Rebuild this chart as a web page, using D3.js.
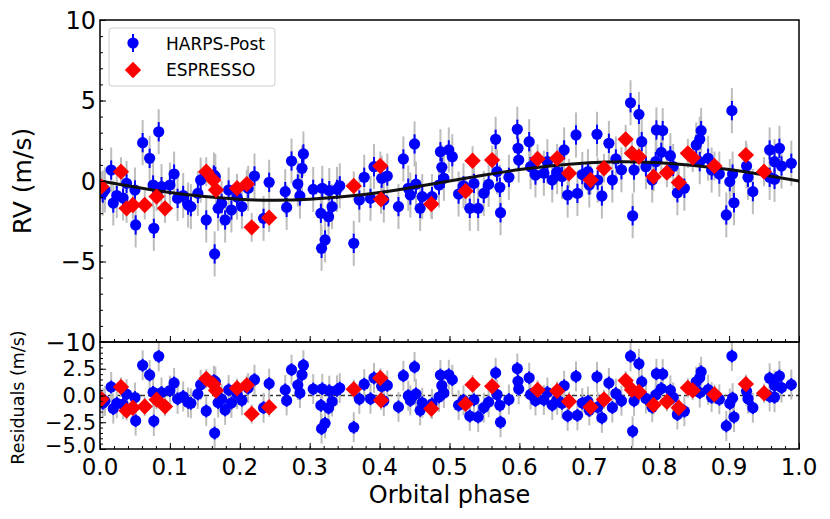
<!DOCTYPE html>
<html>
<head>
<meta charset="utf-8">
<script src="https://cdn.jsdelivr.net/npm/d3@7"></script>
<style>
  body { margin: 0; background: #fff; }
  text { font-family: "DejaVu Sans", sans-serif; fill: #000; }
</style>
</head>
<body>
<div id="chart"></div>
<script>
// HARPS-Post radial velocities, phase-folded (phase, RV in m/s)
const harpsPhase = [0.004,0.007,0.016,0.019,0.024,0.033,0.038,0.050,0.051,0.061,0.071,0.076,0.077,0.084,0.088,0.100,0.106,0.111,0.119,0.126,0.130,0.140,0.144,0.152,0.163,0.164,0.165,0.169,0.174,0.179,0.184,0.188,0.196,0.203,0.212,0.221,0.234,0.242,0.265,0.267,0.274,0.283,0.286,0.289,0.291,0.305,0.316,0.317,0.318,0.322,0.327,0.328,0.332,0.339,0.343,0.363,0.371,0.378,0.387,0.392,0.403,0.406,0.411,0.427,0.434,0.441,0.444,0.450,0.452,0.458,0.461,0.475,0.485,0.487,0.489,0.492,0.499,0.504,0.513,0.520,0.529,0.535,0.541,0.549,0.556,0.566,0.568,0.572,0.573,0.585,0.597,0.598,0.599,0.614,0.616,0.623,0.635,0.640,0.647,0.654,0.661,0.664,0.669,0.681,0.683,0.690,0.698,0.700,0.711,0.712,0.718,0.728,0.733,0.738,0.746,0.759,0.762,0.764,0.771,0.775,0.781,0.790,0.795,0.796,0.803,0.805,0.816,0.820,0.826,0.836,0.853,0.858,0.858,0.860,0.870,0.875,0.886,0.896,0.901,0.904,0.905,0.907,0.925,0.927,0.934,0.958,0.958,0.965,0.965,0.972,0.975,0.989];
const harpsRV = [-0.75,-0.56,0.68,-1.37,-0.9,-1.06,-0.15,-0.56,-2.73,2.38,1.41,-0.25,-2.94,3.06,-0.35,-0.25,0.43,-1.08,-0.9,-1.49,-1.59,-0.77,0.06,-2.42,0.37,-4.53,0.27,-1.70,-1.39,-2.42,-0.56,-1.80,-1.0,-1.59,-0.46,0.31,-2.32,-0.08,-0.66,-1.64,1.24,-0.19,-0.93,0.79,1.68,-0.52,-2.01,-4.18,-0.45,-3.66,-2.22,-0.6,-1.59,-0.52,-0.3,-3.87,-1.18,0.23,-1.08,0.89,0.17,-1.18,0.31,-1.59,1.37,-0.45,-0.87,2.30,-0.2,-1.70,-0.97,-0.97,-0.25,1.82,0.85,0.17,1.93,1.51,-0.81,-0.3,-1.70,-0.15,-1.70,-0.77,-0.21,2.59,0.58,-0.39,-1.97,0.23,3.21,2.03,1.30,2.44,0.89,0.37,0.48,1.20,0.06,0.58,0.27,1.93,-0.87,2.86,-0.77,0.4,0.58,-0.25,2.90,0.06,-0.93,2.34,0.06,1.37,0.7,4.86,-2.16,0.68,4.14,2.44,0.89,0.06,1.20,3.17,1.78,3.13,1.57,0.9,-0.73,-0.45,2.24,2.59,1.20,3.13,1.41,0.68,0.43,-2.11,-0.04,4.37,0.43,-1.35,0.93,0.23,-0.66,1.93,0.23,1.20,0.10,2.03,0.93,1.10];

// ESPRESSO radial velocities
const espPhase = [0.002,0.030,0.038,0.047,0.064,0.081,0.093,0.152,0.162,0.166,0.196,0.210,0.217,0.242,0.363,0.401,0.402,0.474,0.523,0.533,0.561,0.626,0.654,0.671,0.702,0.721,0.752,0.761,0.771,0.792,0.811,0.828,0.841,0.848,0.879,0.924,0.950];
const espRV = [-0.35,0.58,-1.70,-1.49,-1.49,-0.97,-1.70,0.58,0.06,-0.56,-0.45,-0.19,-2.88,-2.28,-0.31,0.93,-1.14,-1.43,-0.62,1.26,1.30,1.37,1.41,0.48,0.06,0.79,2.59,1.72,1.51,0.27,0.52,-0.10,1.72,1.45,0.93,1.61,0.58];

// error bars (m/s): instrument error and error incl. jitter
const harpsErr = 0.6;
const harpsJitErr = 1.4;
const espJitErr = 0.9;

// best-fit model curve
const modelPhase = [0,0.05,0.10,0.15,0.20,0.25,0.30,0.35,0.40,0.45,0.50,0.55,0.60,0.65,0.70,0.75,0.80,0.85,0.90,0.95,1.00];
const modelRV = [0,-0.37,-0.71,-0.97,-1.14,-1.20,-1.14,-0.97,-0.71,-0.37,0,0.37,0.71,0.97,1.14,1.20,1.14,0.97,0.71,0.37,0];

const xTicks = [0,0.1,0.2,0.3,0.4,0.5,0.6,0.7,0.8,0.9,1.0];
const rvTicks = [-10,-5,0,5,10];
const resTicks = [-5,-2.5,0,2.5];

const W = 830, H = 519;
const left = 100, right = 799;
const topY0 = 20, topY1 = 342, resY1 = 449;

const svg = d3.select("#chart").append("svg")
  .attr("width", W).attr("height", H);

const x = d3.scaleLinear().domain([0, 1]).range([left, right]);
const yTop = d3.scaleLinear().domain([-10, 10]).range([topY1, topY0]);
const yRes = d3.scaleLinear().domain([-5, 5]).range([resY1, topY1]);

// model value at a given phase (linear between the read-off samples)
const modelAt = d3.scaleLinear().domain(modelPhase).range(modelRV);

const harps = harpsPhase.map((p, i) => ({p: p, v: harpsRV[i], r: harpsRV[i] - modelAt(p)}));
const esp = espPhase.map((p, i) => ({p: p, v: espRV[i], r: espRV[i] - modelAt(p)}));

const defs = svg.append("defs");
defs.append("clipPath").attr("id", "clipTop").append("rect")
  .attr("x", left).attr("y", topY0).attr("width", right - left).attr("height", topY1 - topY0);
defs.append("clipPath").attr("id", "clipRes").append("rect")
  .attr("x", left).attr("y", topY1).attr("width", right - left).attr("height", resY1 - topY1);

const diamond = d3.symbol().type(d3.symbolDiamond2).size(170);

function drawPanel(y, key, clip) {
  const g = svg.append("g").attr("clip-path", `url(#${clip})`);

  // gray error bars (with jitter)
  g.selectAll(".gh").data(harps).join("line")
    .attr("x1", d => x(d.p)).attr("x2", d => x(d.p))
    .attr("y1", d => y(d[key] - harpsJitErr)).attr("y2", d => y(d[key] + harpsJitErr))
    .attr("stroke", "#bdbdbd").attr("stroke-width", 2);
  g.selectAll(".ge").data(esp).join("line")
    .attr("x1", d => x(d.p)).attr("x2", d => x(d.p))
    .attr("y1", d => y(d[key] - espJitErr)).attr("y2", d => y(d[key] + espJitErr))
    .attr("stroke", "#bdbdbd").attr("stroke-width", 2);

  // blue instrument error bars
  g.selectAll(".bh").data(harps).join("line")
    .attr("x1", d => x(d.p)).attr("x2", d => x(d.p))
    .attr("y1", d => y(d[key] - harpsErr)).attr("y2", d => y(d[key] + harpsErr))
    .attr("stroke", "#0000ff").attr("stroke-width", 2);

  g.selectAll("circle").data(harps).join("circle")
    .attr("cx", d => x(d.p)).attr("cy", d => y(d[key]))
    .attr("r", 5.6).attr("fill", "#0000ff");

  return g;
}

function drawEsp(g, y, key) {
  g.selectAll("path.esp").data(esp).join("path")
    .attr("class", "esp")
    .attr("d", diamond)
    .attr("transform", d => `translate(${x(d.p)},${y(d[key])})`)
    .attr("fill", "#ff0000");
}

// top panel
const gTop = drawPanel(yTop, "v", "clipTop");
gTop.append("path")
  .datum(modelPhase.map((p, i) => [p, modelRV[i]]))
  .attr("d", d3.line().x(d => x(d[0])).y(d => yTop(d[1])).curve(d3.curveNatural))
  .attr("fill", "none").attr("stroke", "#111").attr("stroke-width", 3);
drawEsp(gTop, yTop, "v");

// residual panel
const gRes = svg.append("g");
gRes.append("line")
  .attr("x1", left).attr("x2", right)
  .attr("y1", yRes(0)).attr("y2", yRes(0))
  .attr("stroke", "#333").attr("stroke-width", 1.5).attr("stroke-dasharray", "5,3");
const gRes2 = drawPanel(yRes, "r", "clipRes");
drawEsp(gRes2, yRes, "r");

// axes: inward ticks on left and bottom
function xAxis(yPos, labels) {
  const ax = d3.axisTop(x).tickValues(xTicks).tickSize(6).tickFormat("");
  svg.append("g").attr("transform", `translate(0,${yPos})`).call(ax)
    .call(s => s.select(".domain").remove());
  const minor = d3.axisTop(x).tickValues(d3.range(0, 1.0001, 0.02)).tickSize(3).tickFormat("");
  svg.append("g").attr("transform", `translate(0,${yPos})`).call(minor)
    .call(s => s.select(".domain").remove());
  if (labels) {
    svg.selectAll(null).data(xTicks).join("text")
      .attr("x", d => x(d)).attr("y", yPos + 26)
      .attr("text-anchor", "middle").style("font-size", "23px")
      .text(d => d3.format(".1f")(d));
  }
}

function yAxis(y, ticks, minorStep, fmt, size, lift) {
  const d = y.domain();
  svg.append("g").attr("transform", `translate(${left},0)`)
    .call(d3.axisRight(y).tickValues(ticks).tickSize(6).tickFormat(""))
    .call(s => s.select(".domain").remove());
  svg.append("g").attr("transform", `translate(${left},0)`)
    .call(d3.axisRight(y).tickValues(d3.range(d[0], d[1] + 0.001, minorStep)).tickSize(3).tickFormat(""))
    .call(s => s.select(".domain").remove());
  svg.selectAll(null).data(ticks).join("text")
    .attr("x", left - 4).attr("y", v => y(v) - (v === d[0] ? lift : 0))
    .attr("dy", "0.36em")
    .attr("text-anchor", "end").style("font-size", size + "px")
    .text(v => fmt(v).replace("-", "\u2212"));
}

xAxis(topY1, false);
xAxis(resY1, true);
yAxis(yTop, rvTicks, 1, d3.format("d"), 24, 0);
yAxis(yRes, resTicks, 0.5, d3.format(".1f"), 21, 4);
svg.selectAll(".tick line").attr("stroke", "#000").attr("stroke-width", 1);

// panel frames
svg.append("rect").attr("x", left).attr("y", topY0).attr("width", right - left).attr("height", topY1 - topY0)
  .attr("fill", "none").attr("stroke", "#000").attr("stroke-width", 1.5);
svg.append("rect").attr("x", left).attr("y", topY1).attr("width", right - left).attr("height", resY1 - topY1)
  .attr("fill", "none").attr("stroke", "#000").attr("stroke-width", 1.5);

// axis labels
svg.append("text")
  .attr("transform", `translate(31,${(topY0 + topY1) / 2}) rotate(-90)`)
  .attr("text-anchor", "middle").style("font-size", "25px")
  .text("RV (m/s)");
svg.append("text")
  .attr("transform", `translate(24,${(topY1 + resY1) / 2 + 2}) rotate(-90)`)
  .attr("text-anchor", "middle").style("font-size", "17.5px")
  .text("Residuals (m/s)");
svg.append("text")
  .attr("x", (left + right) / 2).attr("y", 503)
  .attr("text-anchor", "middle").style("font-size", "24px")
  .text("Orbital phase");

// legend
const lg = svg.append("g");
lg.append("rect").attr("x", 109).attr("y", 28).attr("width", 166).attr("height", 58).attr("rx", 3)
  .attr("fill", "#fff").attr("fill-opacity", 0.8).attr("stroke", "#ccc");
lg.append("line").attr("x1", 133).attr("x2", 133).attr("y1", 34).attr("y2", 52)
  .attr("stroke", "#0000ff").attr("stroke-width", 2);
lg.append("circle").attr("cx", 133).attr("cy", 43).attr("r", 5.6).attr("fill", "#0000ff");
lg.append("path").attr("d", diamond).attr("transform", "translate(133,70)").attr("fill", "#ff0000");
lg.append("text").attr("x", 166).attr("y", 50).style("font-size", "17px").text("HARPS-Post");
lg.append("text").attr("x", 166).attr("y", 76).style("font-size", "17px").text("ESPRESSO");
</script>
</body>
</html>
